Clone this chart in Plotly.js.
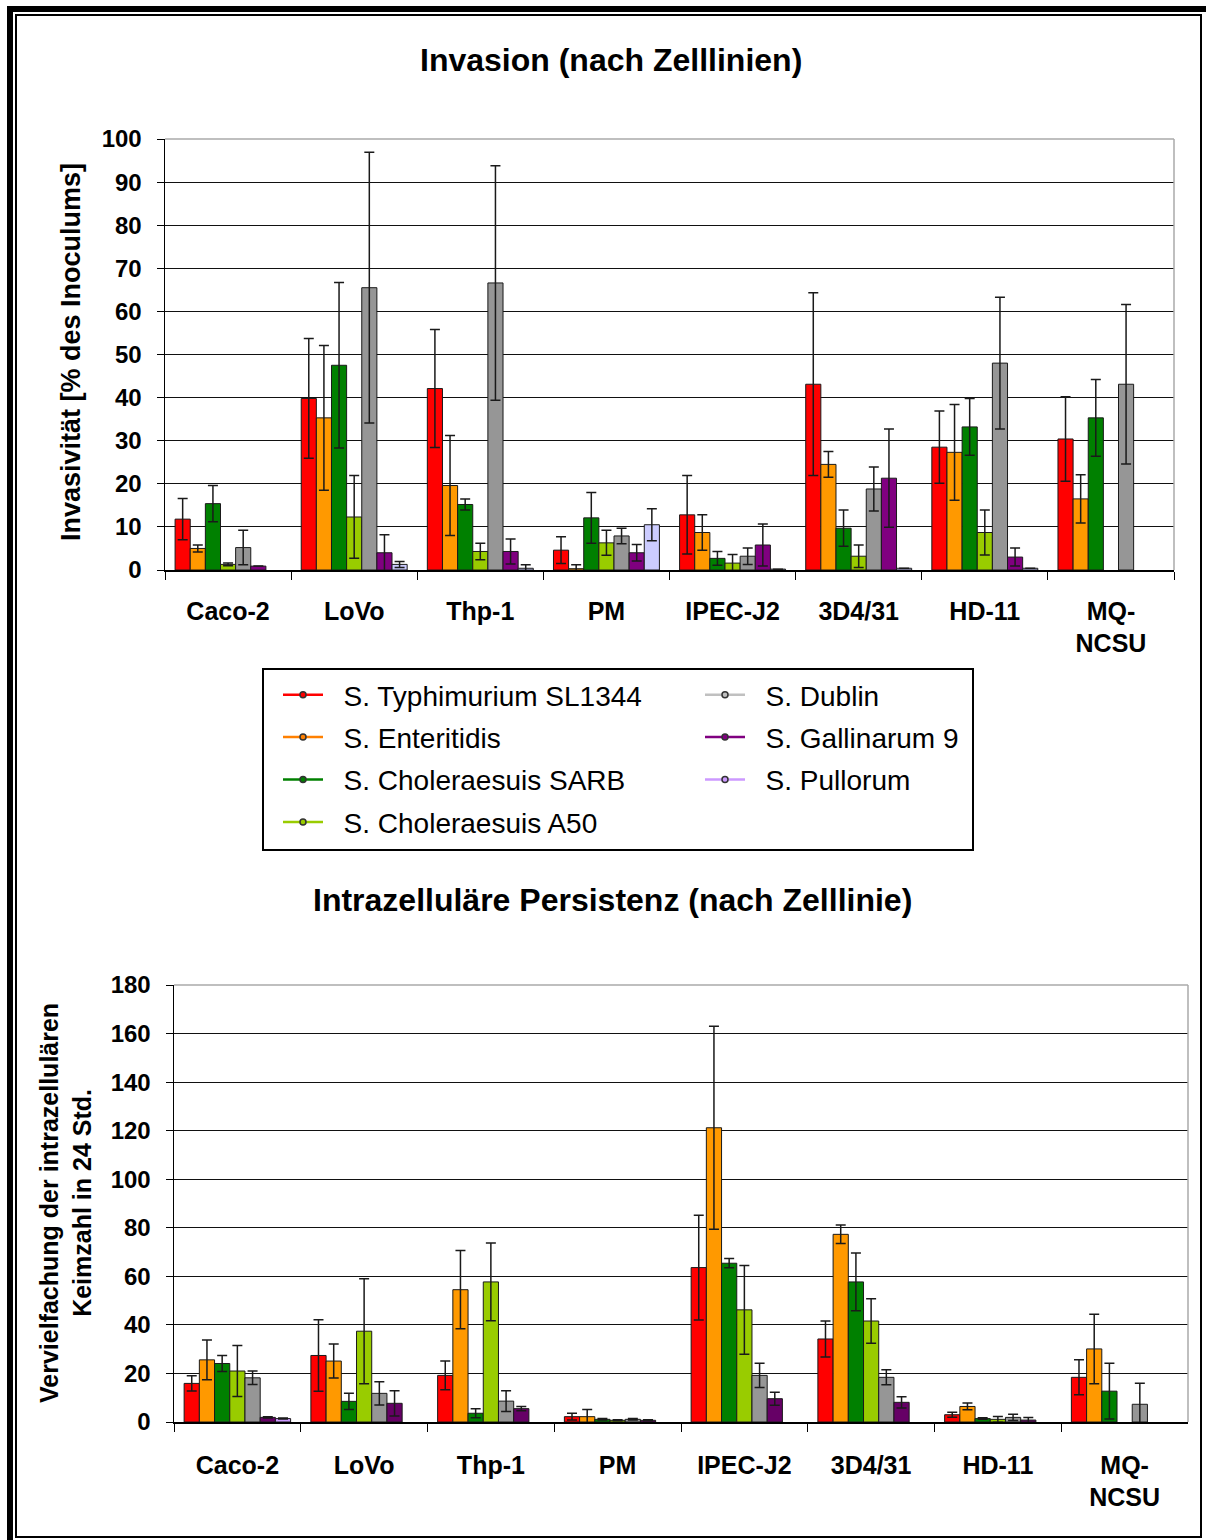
<!DOCTYPE html>
<html>
<head>
<meta charset="utf-8">
<script src="https://cdn.plot.ly/plotly-3.0.1.min.js"></script>
<style>html,body{margin:0;padding:0;background:#fff;}#chart{width:1206px;height:1540px;}</style>
</head>
<body>
<div id="chart"></div>
<script>
// ---------- DATA ----------
var categories = ['Caco-2','LoVo','Thp-1','PM','IPEC-J2','3D4/31','HD-11','MQ-<br>NCSU'];
var strains = ['S. Typhimurium SL1344','S. Enteritidis','S. Choleraesuis SARB','S. Choleraesuis A50','S. Dublin','S. Gallinarum 9','S. Pullorum'];

// Invasion (% of inoculum)
var invTyphimurium = [11.8, 39.8, 42.1, 4.6, 12.8, 43.1, 28.5, 30.4];
var invTyphimuriumErr = [4.8, 13.9, 13.7, 3.1, 9.1, 21.2, 8.4, 9.8];
var invEnteritidis = [5.0, 35.3, 19.6, 0.3, 8.7, 24.5, 27.3, 16.5];
var invEnteritidisErr = [0.8, 16.8, 11.6, 0.9, 4.1, 3.0, 11.1, 5.6];
var invSARB = [15.4, 47.5, 15.2, 12.1, 2.7, 9.7, 33.2, 35.3];
var invSARBErr = [4.2, 19.2, 1.3, 5.9, 1.6, 4.2, 6.6, 8.9];
var invA50 = [1.3, 12.3, 4.3, 6.3, 1.6, 3.2, 8.7, null];
var invA50Err = [0.3, 9.6, 1.9, 2.9, 2.0, 2.6, 5.2, null];
var invDublin = [5.2, 65.5, 66.6, 7.9, 3.2, 18.8, 48.0, 43.1];
var invDublinErr = [4.0, 31.4, 27.2, 1.8, 1.9, 5.1, 15.3, 18.5];
var invGallinarum = [0.9, 4.0, 4.3, 4.0, 5.8, 21.3, 3.0, null];
var invGallinarumErr = [0, 4.2, 2.9, 1.9, 4.9, 11.4, 2.1, null];
var invPullorum = [null, 1.3, 0.4, 10.5, 0.2, 0.4, 0.4, null];
var invPullorumErr = [null, 0.7, 0.8, 3.7, 0, 0, 0, null];

// Intracellular persistence (fold increase in 24 h)
var perTyphimurium = [15.9, 27.4, 19.2, 2.2, 63.6, 34.2, 3.0, 18.4];
var perTyphimuriumErr = [3.1, 14.7, 5.9, 1.4, 21.6, 7.4, 1.0, 7.2];
var perEnteritidis = [25.6, 25.1, 54.5, 2.2, 121.2, 77.3, 6.4, 30.1];
var perEnteritidisErr = [8.2, 7.0, 16.1, 2.9, 41.8, 3.8, 1.4, 14.3];
var perSARB = [24.1, 8.5, 3.6, 1.1, 65.4, 57.7, 1.4, 12.7];
var perSARBErr = [3.3, 3.3, 1.9, 0.3, 1.9, 11.9, 0.3, 11.5];
var perA50 = [21.0, 37.4, 57.7, 0.7, 46.2, 41.6, 1.1, null];
var perA50Err = [10.5, 21.6, 16.0, 0.2, 18.3, 9.2, 1.2, null];
var perDublin = [18.2, 11.8, 8.6, 1.1, 19.2, 18.4, 1.9, 7.3];
var perDublinErr = [2.8, 4.8, 4.3, 0.3, 5.0, 3.1, 1.3, 8.7];
var perGallinarum = [1.9, 7.7, 5.5, 0.7, 9.6, 8.1, 0.8, null];
var perGallinarumErr = [0.3, 5.2, 0.9, 0.2, 2.7, 2.3, 1.1, null];
var perPullorum = [1.4, null, null, null, null, null, null, null];
var perPullorumErr = [0.2, null, null, null, null, null, null, null];

var invTitle = 'Invasion (nach Zelllinien)';
var perTitle = 'Intrazelluläre Persistenz (nach Zelllinie)';
var invYTitle = 'Invasivität [% des Inoculums]';
var perYTitle = 'Vervielfachung der intrazellulären<br>Keimzahl in 24 Std.';
var invTicks = [0,10,20,30,40,50,60,70,80,90,100];
var perTicks = [0,20,40,60,80,100,120,140,160,180];

// ---------- STYLE ----------
var topColors = ['#FF0000','#FF9900','#008000','#99CC00','#969696','#800080','#CCCCFF'];
var botColors = ['#FF0000','#FF9900','#008000','#99CC00','#969696','#660066','#CC99FF'];
var legendColors = ['#FF0000','#FF8000','#008000','#99CC00','#C0C0C0','#800080','#CC99FF'];
var FONT = 'Arial, "Liberation Sans", sans-serif';
var W = 1206, H = 1540;
function fx(p){ return p / W; }
function fy(p){ return (H - p) / H; }

var invVals = [invTyphimurium, invEnteritidis, invSARB, invA50, invDublin, invGallinarum, invPullorum];
var invErrs = [invTyphimuriumErr, invEnteritidisErr, invSARBErr, invA50Err, invDublinErr, invGallinarumErr, invPullorumErr];
var perVals = [perTyphimurium, perEnteritidis, perSARB, perA50, perDublin, perGallinarum, perPullorum];
var perErrs = [perTyphimuriumErr, perEnteritidisErr, perSARBErr, perA50Err, perDublinErr, perGallinarumErr, perPullorumErr];

var traces = [];
function barTrace(vals, errs, color, xa, ya, name){
  return {
    type: 'bar', x: categories, y: vals, name: name, showlegend: false,
    xaxis: xa, yaxis: ya,
    marker: {color: color, line: {color: '#1a1a1a', width: 1}},
    error_y: {type: 'data', array: errs, visible: true, color: '#1a1a1a', thickness: 1.5, width: 5},
    hoverinfo: 'x+y+name'
  };
}
for (var i = 0; i < strains.length; i++) {
  traces.push(barTrace(invVals[i], invErrs[i], topColors[i], 'x', 'y', strains[i]));
}
for (var i = 0; i < strains.length; i++) {
  traces.push(barTrace(perVals[i], perErrs[i], botColors[i], 'x2', 'y2', strains[i]));
}
// legend entries (line + dot symbol as in the original)
for (var i = 0; i < strains.length; i++) {
  traces.push({
    type: 'scatter', mode: 'lines+markers', x: [null], y: [null], name: '\u00a0\u00a0' + strains[i],
    xaxis: 'x', yaxis: 'y', legendgroup: 'g' + i, legend: i < 4 ? 'legend' : 'legend2',
    line: {color: legendColors[i], width: 2.5},
    marker: {color: legendColors[i], size: 6, symbol: 'circle', line: {color: '#333', width: 1.5}},
    hoverinfo: 'skip'
  });
}

var tickFont = {family: FONT, size: 24, color: '#000', weight: 'bold'};
var xTickFont = {family: FONT, size: 25, color: '#000', weight: 'bold'};
var legendFont = {family: FONT, size: 28, color: '#000'};

var layout = {
  width: W, height: H,
  margin: {l: 0, r: 0, t: 0, b: 0},
  paper_bgcolor: '#fff', plot_bgcolor: '#fff',
  barmode: 'group', bargap: 0.16, bargroupgap: 0,
  font: {family: FONT, color: '#000'},
  xaxis: {
    domain: [fx(165), fx(1174)], anchor: 'y', type: 'category',
    tickson: 'boundaries', ticks: 'outside', ticklen: 8, tickcolor: '#000', tickwidth: 1,
    showline: true, linecolor: '#000', linewidth: 1.5, showgrid: false,
    tickfont: xTickFont, ticklabelstandoff: 18, fixedrange: true
  },
  yaxis: {
    domain: [fy(570), fy(139)], anchor: 'x', range: [0, 100],
    tickvals: invTicks, ticktext: invTicks.map(String),
    ticks: 'outside', ticklen: 7, tickcolor: '#000',
    showline: true, linecolor: '#000', linewidth: 1.5,
    showgrid: true, gridcolor: '#111', gridwidth: 1, zeroline: false,
    tickfont: tickFont, ticklabelstandoff: 10, fixedrange: true
  },
  xaxis2: {
    domain: [fx(174), fx(1188)], anchor: 'y2', type: 'category',
    tickson: 'boundaries', ticks: 'outside', ticklen: 8, tickcolor: '#000', tickwidth: 1,
    showline: true, linecolor: '#000', linewidth: 1.5, showgrid: false,
    tickfont: xTickFont, ticklabelstandoff: 20, fixedrange: true
  },
  yaxis2: {
    domain: [fy(1422), fy(985)], anchor: 'x2', range: [0, 180],
    tickvals: perTicks, ticktext: perTicks.map(String),
    ticks: 'outside', ticklen: 7, tickcolor: '#000',
    showline: true, linecolor: '#000', linewidth: 1.5,
    showgrid: true, gridcolor: '#111', gridwidth: 1, zeroline: false,
    tickfont: tickFont, ticklabelstandoff: 10, fixedrange: true
  },
  legend: {
    x: fx(278), y: fy(670), xanchor: 'left', yanchor: 'top',
    bgcolor: 'rgba(0,0,0,0)', borderwidth: 0, font: legendFont,
    tracegroupgap: 3, itemwidth: 40, traceorder: 'grouped'
  },
  legend2: {
    x: fx(700), y: fy(670), xanchor: 'left', yanchor: 'top',
    bgcolor: 'rgba(0,0,0,0)', borderwidth: 0, font: legendFont,
    tracegroupgap: 3, itemwidth: 40, traceorder: 'grouped'
  },
  annotations: [
    {text: invTitle, xref: 'paper', yref: 'paper', x: fx(611), y: fy(60), xanchor: 'center', yanchor: 'middle',
     showarrow: false, font: {family: FONT, size: 32, color: '#000', weight: 'bold'}},
    {text: perTitle, xref: 'paper', yref: 'paper', x: fx(612), y: fy(900), xanchor: 'center', yanchor: 'middle',
     showarrow: false, font: {family: FONT, size: 32, color: '#000', weight: 'bold'}},
    {text: invYTitle, xref: 'paper', yref: 'paper', x: fx(71), y: fy(352), xanchor: 'center', yanchor: 'middle',
     textangle: -90, showarrow: false, font: {family: FONT, size: 27, color: '#000', weight: 'bold'}},
    {text: perYTitle, xref: 'paper', yref: 'paper', x: fx(65), y: fy(1203), xanchor: 'center', yanchor: 'middle',
     textangle: -90, showarrow: false, font: {family: FONT, size: 25, color: '#000', weight: 'bold'}}
  ],
  shapes: [
    // outer frame
    {type: 'rect', xref: 'paper', yref: 'paper', x0: fx(7), x1: fx(1206), y0: fy(12), y1: fy(6), fillcolor: '#000', line: {width: 0}},
    {type: 'rect', xref: 'paper', yref: 'paper', x0: fx(7), x1: fx(13), y0: fy(1540), y1: fy(6), fillcolor: '#000', line: {width: 0}},
    {type: 'rect', xref: 'paper', yref: 'paper', x0: fx(16), x1: fx(1201), y0: fy(1537), y1: fy(15), line: {color: '#000', width: 2}},
    // plot-area top/right borders
    {type: 'line', xref: 'paper', yref: 'paper', x0: fx(165), x1: fx(1174), y0: fy(139), y1: fy(139), line: {color: '#aaa', width: 1.5}},
    {type: 'line', xref: 'paper', yref: 'paper', x0: fx(1174), x1: fx(1174), y0: fy(139), y1: fy(570), line: {color: '#aaa', width: 1.5}},
    {type: 'line', xref: 'paper', yref: 'paper', x0: fx(174), x1: fx(1188), y0: fy(985), y1: fy(985), line: {color: '#aaa', width: 1.5}},
    {type: 'line', xref: 'paper', yref: 'paper', x0: fx(1188), x1: fx(1188), y0: fy(985), y1: fy(1422), line: {color: '#aaa', width: 1.5}},
    // legend box
    {type: 'rect', xref: 'paper', yref: 'paper', x0: fx(263), x1: fx(973), y0: fy(850), y1: fy(669), line: {color: '#000', width: 2}}
  ]
};

Plotly.newPlot('chart', traces, layout, {displayModeBar: false, staticPlot: true});
</script>
</body>
</html>
